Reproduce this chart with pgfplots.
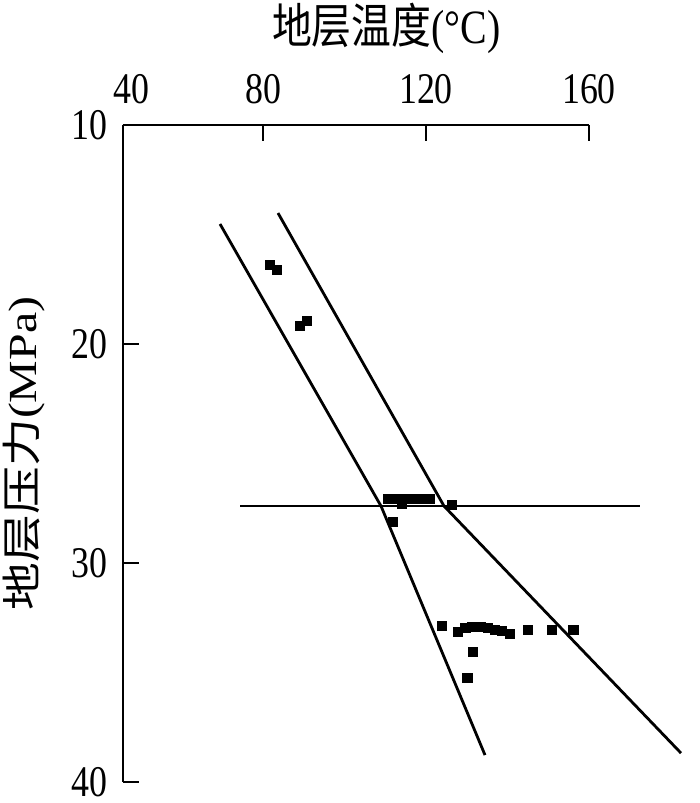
\documentclass[border=0pt]{standalone}
\usepackage{graphicx}
\usepackage{fontspec}
\setmainfont{Liberation Serif}
\newfontfamily\cjk{Noto Sans CJK SC}
\usepackage{pgfplots}
\pgfplotsset{compat=1.18}
\newcommand{\vs}[1]{\scalebox{1}[1.22]{#1}}
\begin{document}
\begin{tikzpicture}
\begin{axis}[
  scale only axis, width=233bp, height=328.5bp,
  xmin=45.64, xmax=160, ymin=10, ymax=40, y dir=reverse,
  axis x line*=top, axis y line*=left,
  axis line style={line width=1.2bp, black},
  tick align=inside, major tick length=8bp,
  tick style={line width=1.2bp, black},
  xtick={80,120,160}, xticklabels={\vs{80},\vs{120},\vs{160}},
  ytick={10,20,30,40}, yticklabels={\vs{10},\vs{20},\vs{30},\vs{40}},
  extra x ticks={47.8}, extra x tick labels={\vs{40}},
  extra x tick style={major tick length=0pt},
  xticklabel style={font=\fontsize{18}{18}\selectfont, yshift=7bp},
  yticklabel style={font=\fontsize{18}{18}\selectfont, xshift=-4.5bp},
  xlabel={\scalebox{1}[1.2]{{\cjk 地层温度}(°C)}},
  xlabel style={font=\fontsize{20}{20}\selectfont, at={(axis description cs:0.565,1)}, anchor=south, yshift=32bp},
  ylabel={\scalebox{1.2}[1]{{\cjk 地层压力}(MPa)}},
  ylabel style={font=\fontsize{20}{20}\selectfont},
  ylabel shift=6bp,
  clip=false,
]
% trend lines
\addplot[black, line width=1.4bp] coordinates {(69.45,14.52) (108.96,27.40) (134.48,38.77)};
\addplot[black, line width=1.4bp] coordinates {(83.68,14.02) (124.42,27.40) (182.58,38.68)};
\addplot[black, line width=1.4bp] coordinates {(74.36,27.40) (172.52,27.40)};
% data points
\addplot[only marks, mark=square*, mark size=2.4bp, black] coordinates {
(81.7,16.39) (83.4,16.62) (89.1,19.18) (90.8,18.95)
(110.7,27.08) (112.0,27.08) (113.5,27.08) (115.0,27.08) (116.5,27.08) (118.0,27.08) (119.5,27.08) (120.8,27.08)
(114.1,27.30) (126.4,27.35) (111.9,28.13)
(123.9,32.88) (127.85,33.15) (129.6,32.97) (131.3,32.92) (133.3,32.92) (135.2,32.97) (136.9,33.06) (138.65,33.10) (140.6,33.24)
(145.0,33.06) (150.9,33.06) (156.1,33.06)
(131.5,34.06) (130.1,35.25)
};
\end{axis}
\pgfresetboundingbox
\path (current axis.south west) ++(-61.5bp,-10.5bp) rectangle ++(350bp,401.5bp);
\end{tikzpicture}
\end{document}
